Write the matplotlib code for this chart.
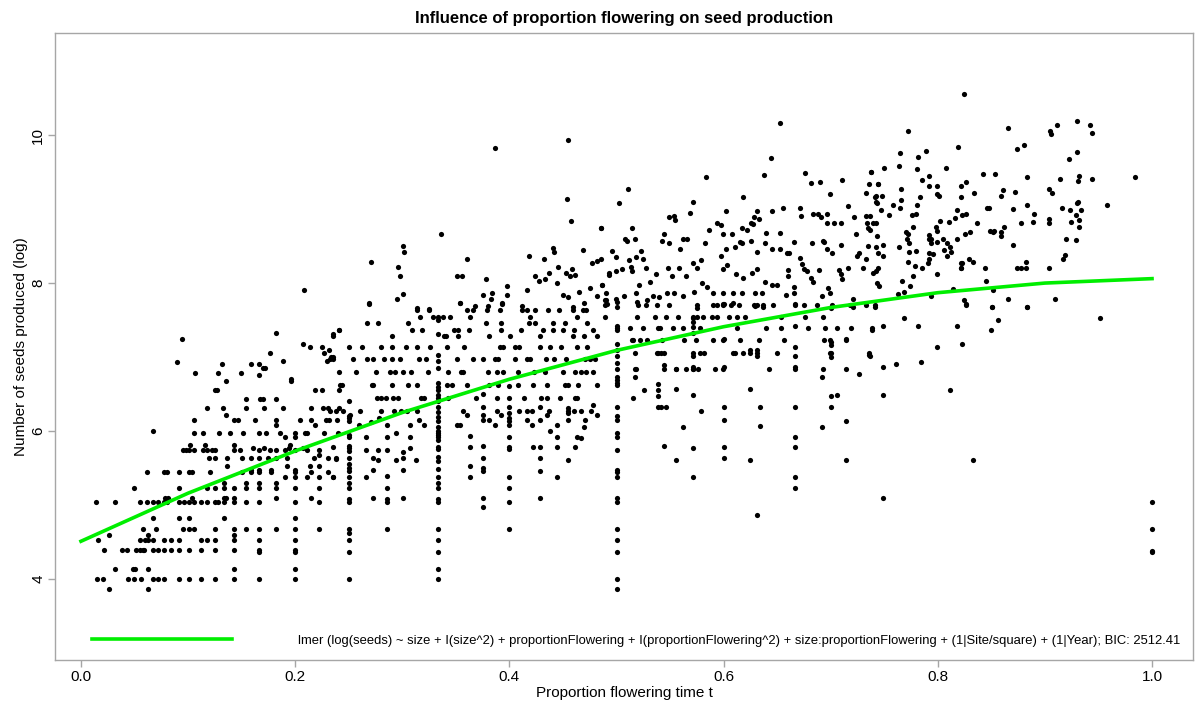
import matplotlib
matplotlib.use("Agg")
import matplotlib.pyplot as plt

plt.rcParams['font.family'] = ['Liberation Sans', 'DejaVu Sans']

# --- plants sharing the same proportion flowering (vertical columns) ---
y_at_quarter = [7.13, 6.40, 6.20, 6.17, 6.14, 5.95, 5.92, 5.80, 5.77, 5.73, 5.63, 5.56,
                5.50, 5.46, 5.38, 5.30, 5.23, 5.08, 5.04, 4.68, 4.62, 4.53, 4.36, 4.00]
y_at_2_7 = [6.08, 5.92, 5.74, 5.39, 5.23, 5.08, 5.04, 4.68]
y_at_third = [7.54, 7.50, 7.31, 7.03, 6.95, 6.85, 6.65, 6.59, 6.55, 6.49, 6.45, 6.40, 6.32,
              6.26, 6.19, 6.13, 6.06, 6.00, 5.98, 5.95, 5.92, 5.88, 5.79, 5.76, 5.65, 5.59,
              5.49, 5.38, 5.30, 5.23, 5.08, 5.04, 4.68, 4.53, 4.36, 4.14, 4.00]
y_at_4_11 = [5.93, 5.78, 5.53, 5.38]
y_at_3_8 = [6.50, 6.33, 6.22, 6.15, 5.80, 5.63, 5.50, 5.46, 5.10, 4.97]
y_at_2_5 = [6.61, 6.44, 6.33, 6.24, 6.17, 6.13, 6.08, 5.92, 5.79, 5.76, 5.38, 5.23, 5.04, 4.68]
y_at_3_7 = [6.33, 6.15, 5.79, 5.63, 5.46, 5.10]
y_at_4_9 = [6.08, 5.92, 5.79, 5.38]
y_at_5_11 = [6.31, 6.24, 6.15, 5.61]
y_at_half = [7.75, 7.67, 7.42, 7.39, 7.36, 7.18, 7.09, 7.01, 6.92, 6.84, 6.73, 6.69, 6.65,
             6.62, 6.32, 6.20, 6.15, 5.98, 5.92, 5.74, 5.48, 5.45, 5.38, 5.10, 5.04, 4.68,
             4.53, 4.36, 4.00, 3.86]
y_at_7_13 = [7.05, 6.64, 6.56, 6.48, 6.32]
y_at_5_9 = [6.84, 6.57, 5.61]
y_at_4_7 = [7.53, 7.48, 7.41, 7.32, 7.01, 6.87, 6.84, 6.49, 5.77, 5.38]
y_at_3_5 = [7.72, 7.24, 6.87, 6.32, 6.15, 5.79, 5.63]
y_at_5_8 = [7.09, 6.57, 5.61]
y_at_2_3 = [7.72, 7.42, 7.13, 7.01, 6.87, 6.84, 6.32, 5.92, 5.79, 5.38, 5.23]
y_at_7_10 = [7.66, 7.21, 7.16, 7.05, 7.00, 6.48, 6.33]
y_at_5_7 = [7.24, 6.84, 6.14, 5.61]
y_at_one = [5.04, 4.68, 4.38, 4.36]

# --- low proportions (x < 0.24), grouped by seed level ---
rows_left = [
    (3.86, [0.0265, 0.0629]),
    (4.00, [0.0153, 0.0208, 0.0442, 0.0495, 0.0560, 0.0675, 0.0722, 0.0775, 0.0915, 0.1008,
            0.1117, 0.1250, 0.1429, 0.1665, 0.2000]),
    (4.14, [0.0321, 0.0482, 0.0507, 0.0629, 0.1429, 0.2000]),
    (4.36, [0.1665, 0.2000]),
    (4.39, [0.0218, 0.0380, 0.0426, 0.0514, 0.0550, 0.0576, 0.0588, 0.0675, 0.0722, 0.0775,
            0.0837, 0.0915, 0.1008, 0.1117, 0.1250, 0.1429, 0.1665, 0.2000]),
    (4.53, [0.0162, 0.0550, 0.0598, 0.0629, 0.0675, 0.0775, 0.0837, 0.0915, 0.1117, 0.1173,
            0.1250, 0.1429, 0.1665, 0.2000]),
    (4.60, [0.0265, 0.0629, 0.1429]),
    (4.68, [0.0576, 0.0697, 0.0955, 0.1008, 0.1058, 0.1250, 0.1429, 0.1540, 0.1665, 0.1820,
            0.2000, 0.2225]),
    (4.82, [0.0675, 0.0915, 0.1008, 0.1335, 0.2000]),
    (5.04, [0.0140, 0.0317, 0.0550, 0.0619, 0.0675, 0.0722, 0.0775, 0.0806, 0.0915, 0.0962,
            0.1008, 0.1058, 0.1117, 0.1173, 0.1250, 0.1282, 0.1335, 0.1429, 0.1540, 0.1665,
            0.2000, 0.2225]),
    (5.09, [0.0784, 0.0815, 0.1033, 0.1335, 0.1354, 0.1429, 0.1820, 0.2144]),
    (5.23, [0.0495, 0.0915, 0.1173, 0.1250, 0.1335, 0.1429, 0.1540, 0.1665, 0.1820, 0.2000,
            0.2225]),
    (5.30, [0.1335, 0.1540, 0.1665, 0.1820]),
    (5.38, [0.1905, 0.2000, 0.2107, 0.2225, 0.2356]),
    (5.45, [0.0619, 0.0775, 0.0800, 0.0915, 0.1008, 0.1033, 0.1204, 0.1500, 0.1584, 0.1665,
            0.1771, 0.2000, 0.2147, 0.2303]),
    (5.48, [0.1584, 0.1665, 0.1771, 0.2000]),
    (5.53, [0.1366, 0.1927, 0.2138, 0.2225]),
    (5.63, [0.1198, 0.1250, 0.1360, 0.1500, 0.1584, 0.1665, 0.1749, 0.1820, 0.1927, 0.2179,
            0.2303, 0.2381]),
    (5.68, [0.2225]),
    (5.74, [0.0955, 0.0980, 0.1008, 0.1058, 0.1142, 0.1173, 0.1220, 0.1250, 0.1429, 0.1484,
            0.1665, 0.1765, 0.1820, 0.1905, 0.2000, 0.2107, 0.2225]),
    (5.77, [0.1603, 0.1709, 0.1939, 0.2070]),
    (5.81, [0.1018, 0.1158, 0.1429, 0.1952]),
    (5.92, [0.1905, 0.2000]),
    (5.97, [0.1058, 0.1142, 0.1291, 0.1391, 0.1515, 0.1665, 0.1727, 0.1858, 0.2000, 0.2092,
            0.2107, 0.2272, 0.2403]),
    (6.00, [0.0675]),
    (6.08, [0.1820, 0.2185]),
    (6.15, [0.1058, 0.1429, 0.1469, 0.1625, 0.1820, 0.2045, 0.2147, 0.2285, 0.2312, 0.2387]),
    (6.22, [0.1354]),
    (6.31, [0.1173, 0.1329, 0.1540, 0.1709, 0.1883, 0.2147, 0.2263, 0.2309, 0.2406]),
    (6.43, [0.1540, 0.1671, 0.1702, 0.1820]),
    (6.55, [0.1250, 0.1273, 0.2185, 0.2250, 0.2406]),
    (6.67, [0.1354, 0.1961]),
    (6.71, [0.1961]),
    (6.76, [0.1665]),
    (6.78, [0.1064, 0.1282, 0.1491]),
    (6.85, [0.1702, 0.1718]),
    (6.91, [0.1313, 0.1584, 0.1665]),
    (6.93, [0.0899]),
    (6.94, [0.1883, 0.2294]),
    (7.00, [0.2334, 0.2356]),
    (7.06, [0.1765, 0.2272]),
    (7.09, [0.2318]),
    (7.13, [0.2138, 0.2247]),
    (7.18, [0.2076]),
    (7.24, [0.0943]),
    (7.31, [0.2350]),
    (7.33, [0.1820]),
    (7.36, [0.2406]),
    (7.91, [0.2085]),
]

# --- middle-left block (0.23 < x < 0.49) ---
rows_mid = [
    (7.73, [0.2692, 0.3538, 0.3927]),
    (7.64, [0.3140, 0.3253, 0.3607, 0.3663, 0.3794, 0.3912, 0.4114, 0.4161, 0.4239, 0.4363,
            0.4460, 0.4591, 0.4684, 0.4715]),
    (7.54, [0.3165, 0.3284, 0.3383, 0.3445, 0.3632, 0.4192, 0.4628]),
    (7.46, [0.2667, 0.2770, 0.3056, 0.3781, 0.3918, 0.4183, 0.4239, 0.4410, 0.4522, 0.4728]),
    (7.37, [0.2412, 0.3088, 0.3181, 0.3483, 0.3523, 0.3626, 0.3918, 0.4105, 0.4317, 0.4404,
            0.4503, 0.4603, 0.4784]),
    (7.28, [0.2350, 0.2901, 0.3392, 0.3405, 0.3523, 0.3806, 0.4005, 0.4286, 0.4597, 0.4700,
            0.4815]),
    (7.14, [0.2621, 0.2798, 0.2907, 0.3035, 0.3140, 0.3259, 0.3414, 0.3576, 0.3912, 0.3943,
            0.4052, 0.4092, 0.4286, 0.4379, 0.4479, 0.4634, 0.4728]),
    (6.98, [0.2325, 0.2350, 0.2543, 0.2667, 0.2730, 0.2832, 0.2901, 0.2978, 0.3159, 0.3218,
            0.3508, 0.3663, 0.3756, 0.3866, 0.3896, 0.4052, 0.4161, 0.4192, 0.4342, 0.4416,
            0.4528, 0.4706, 0.4753, 0.4800]),
    (6.80, [0.2412, 0.2568, 0.2755, 0.2885, 0.2932, 0.3003, 0.3078, 0.3243, 0.3430, 0.3545,
            0.3570, 0.3803, 0.3881, 0.3943, 0.4083, 0.4230, 0.4332, 0.4503, 0.4613, 0.4665,
            0.4715, 0.4784]),
    (6.62, [0.2418, 0.2434, 0.2720, 0.2730, 0.2907, 0.3056, 0.3140, 0.3414, 0.3461, 0.3601,
            0.3812, 0.3890, 0.4083, 0.4223, 0.4348, 0.4519, 0.4550, 0.4644, 0.4815]),
    (6.44, [0.2761, 0.2798, 0.2848, 0.2916, 0.2963, 0.3175, 0.3203, 0.3423, 0.3685, 0.3881,
            0.4139, 0.4292, 0.4348, 0.4472, 0.4613, 0.4628]),
    (6.27, [0.2325, 0.2381, 0.2443, 0.2605, 0.2798, 0.2922, 0.2985, 0.3047, 0.3137, 0.3570,
            0.3887, 0.4092, 0.4161, 0.4208, 0.4370, 0.4544, 0.4606, 0.4665, 0.4759]),
]

pts_mid_low = [
    (0.2350, 5.79), (0.2381, 5.62), (0.2350, 5.38), (0.2661, 5.92), (0.2661, 5.74),
    (0.2661, 5.38), (0.2723, 5.63), (0.2723, 5.47), (0.2723, 5.10), (0.2770, 5.74),
    (0.2770, 5.61), (0.2941, 5.97), (0.2941, 5.61), (0.3003, 5.72), (0.3003, 5.63),
    (0.3003, 5.47), (0.3003, 5.10), (0.3072, 6.08), (0.3072, 5.92), (0.3072, 5.77),
    (0.3128, 5.61), (0.3156, 6.15), (0.3206, 6.08), (0.3508, 6.08), (0.3538, 6.08),
    (0.3601, 6.22), (0.3812, 6.15), (0.3866, 6.08), (0.3918, 6.22), (0.4161, 6.15),
    (0.4208, 6.08), (0.4223, 5.79), (0.4348, 6.22), (0.4379, 6.00), (0.4628, 5.92),
    (0.4665, 5.90), (0.4699, 6.05), (0.4613, 5.79), (0.4706, 6.15), (0.4815, 6.22),
    (0.4784, 6.35), (0.2513, 6.22), (0.2598, 6.08), (0.2704, 6.12), (0.2785, 6.18),
]

pts_mid_high = [
    (0.3866, 9.83), (0.4550, 9.94), (0.4535, 9.13), (0.4572, 8.84), (0.4852, 8.75),
    (0.3361, 8.67), (0.3010, 8.50), (0.3016, 8.42), (0.2708, 8.28), (0.2963, 8.22),
    (0.3601, 8.32), (0.2978, 8.09), (0.3010, 7.85), (0.2954, 7.79), (0.2692, 7.72),
    (0.3508, 8.10), (0.3554, 8.10), (0.3778, 8.05), (0.3974, 7.96), (0.4183, 8.36),
    (0.4404, 8.48), (0.4414, 8.42), (0.4323, 8.33), (0.4454, 8.22), (0.4242, 8.09),
    (0.4280, 8.03), (0.4332, 8.05), (0.4373, 8.13), (0.4525, 8.13), (0.4565, 8.10),
    (0.4613, 8.11), (0.4588, 8.19), (0.4687, 8.45), (0.4774, 8.27), (0.4815, 8.30),
    (0.4855, 8.33), (0.4927, 8.11), (0.4862, 7.97), (0.4756, 7.93), (0.4815, 7.82),
    (0.4441, 8.00), (0.4653, 7.88), (0.4697, 7.73), (0.4503, 7.84), (0.4544, 7.81),
    (0.3756, 7.84), (0.3834, 7.87), (0.3974, 7.84), (0.3826, 7.79), (0.4167, 7.91),
    (0.4114, 7.69), (0.3934, 7.72), (0.3538, 7.73), (0.3679, 7.69), (0.3140, 7.66),
    (0.3247, 7.65), (0.3803, 7.69), (0.4597, 7.67), (0.4902, 7.77),
]

# --- middle-right block (0.49 < x < 0.75) ---
rows_right = [
    (7.70, [0.4893, 0.5204, 0.5276, 0.5382, 0.5493, 0.5749, 0.5898, 0.5942, 0.5991, 0.6066,
            0.6147, 0.6284, 0.6315, 0.6371, 0.6464, 0.6754, 0.6869, 0.7009, 0.7180, 0.7326,
            0.7413]),
    (7.54, [0.4893, 0.5188, 0.5360, 0.5462, 0.5578, 0.5711, 0.5749, 0.5804, 0.5895, 0.5942,
            0.6054, 0.6122, 0.6200, 0.6533, 0.6763, 0.6931]),
    (7.39, [0.5126, 0.5245, 0.5385, 0.5406, 0.5525, 0.5624, 0.5780, 0.6122, 0.6393, 0.6536,
            0.6791, 0.6947, 0.7055, 0.7187, 0.7382]),
    (7.23, [0.5142, 0.5157, 0.5219, 0.5288, 0.5422, 0.5634, 0.5743, 0.5898, 0.5997, 0.6153,
            0.6334, 0.6567, 0.6937, 0.6993, 0.7140]),
    (7.06, [0.5173, 0.5382, 0.5416, 0.5447, 0.5711, 0.5780, 0.5817, 0.6085, 0.6106, 0.6185,
            0.6246, 0.6315, 0.6496, 0.6993, 0.7360]),
    (6.84, [0.5182, 0.5173, 0.5447, 0.5556, 0.5649, 0.5711, 0.5764, 0.5922, 0.5997, 0.6427,
            0.6925]),
]

pts_right_low = [
    (0.5447, 6.89), (0.5447, 5.80), (0.6339, 6.33), (0.6339, 6.07), (0.5786, 6.27),
    (0.5618, 6.06), (0.6309, 4.87), (0.6309, 7.10), (0.6309, 7.01), (0.6916, 6.06),
    (0.6916, 6.73), (0.7056, 6.49), (0.7268, 6.77), (0.7360, 7.03), (0.5173, 6.73),
    (0.5155, 6.45), (0.5416, 6.32), (0.5462, 6.33), (0.5260, 6.55),
]

pts_right_high = [
    (0.6526, 10.16), (0.6439, 9.69), (0.6380, 9.46), (0.5836, 9.43), (0.6756, 9.49),
    (0.7376, 9.50), (0.6819, 9.35), (0.6897, 9.36), (0.7102, 9.39), (0.7360, 9.34),
    (0.7445, 9.34), (0.6994, 9.21), (0.7326, 9.22), (0.5104, 9.27), (0.5024, 9.08),
    (0.6185, 9.17), (0.5711, 9.09), (0.5686, 8.95), (0.6022, 8.97), (0.5489, 8.89),
    (0.5536, 8.90), (0.5549, 8.85), (0.6559, 9.01), (0.6452, 8.97), (0.6312, 8.97),
    (0.6328, 8.86), (0.6287, 8.89), (0.6713, 9.01), (0.6723, 8.90), (0.6837, 8.94),
    (0.6878, 8.94), (0.6909, 8.89), (0.6962, 8.94), (0.7162, 9.04), (0.7215, 8.89),
    (0.7417, 9.17), (0.7430, 9.08), (0.6962, 8.81), (0.7030, 8.81), (0.7099, 8.81),
    (0.7333, 8.91), (0.7343, 8.81), (0.7349, 8.74), (0.7393, 8.81), (0.4852, 8.75),
    (0.5148, 8.75), (0.5080, 8.59), (0.5096, 8.57), (0.5176, 8.60), (0.5443, 8.67),
    (0.5624, 8.60), (0.5662, 8.60), (0.5867, 8.72), (0.5942, 8.81), (0.5977, 8.78),
    (0.6175, 8.75), (0.6221, 8.72), (0.6259, 8.81), (0.6271, 8.80), (0.6393, 8.68),
    (0.6524, 8.68), (0.6658, 8.56), (0.7240, 8.67), (0.7346, 8.50), (0.5422, 8.57),
    (0.5493, 8.54), (0.5593, 8.46), (0.5826, 8.54), (0.5997, 8.67), (0.6075, 8.66),
    (0.6106, 8.49), (0.6153, 8.56), (0.6175, 8.54), (0.6256, 8.57), (0.6309, 8.42),
    (0.6386, 8.54), (0.6449, 8.46), (0.6527, 8.46), (0.6589, 8.40), (0.6614, 8.40),
    (0.6713, 8.34), (0.6829, 8.54), (0.6925, 8.57), (0.6937, 8.55), (0.6962, 8.46),
    (0.7009, 8.40), (0.7096, 8.52), (0.7242, 8.36), (0.7267, 8.41), (0.7326, 8.32),
    (0.7442, 8.40), (0.4955, 8.44), (0.4995, 8.35), (0.5225, 8.44), (0.5250, 8.33),
    (0.5182, 8.35), (0.5118, 8.31), (0.5049, 8.19), (0.4932, 8.13), (0.4995, 8.16),
    (0.5133, 8.22), (0.5148, 8.16), (0.5271, 8.20), (0.5369, 8.12), (0.5478, 8.21),
    (0.5522, 8.09), (0.5584, 8.20), (0.5650, 8.09), (0.5711, 8.27), (0.5755, 8.20),
    (0.5790, 8.31), (0.5972, 8.37), (0.6022, 8.46), (0.5991, 8.19), (0.6028, 8.25),
    (0.6113, 8.12), (0.6178, 8.07), (0.6262, 8.14), (0.6309, 8.19), (0.6390, 8.01),
    (0.6449, 7.97), (0.6496, 7.98), (0.6598, 8.18), (0.6604, 8.09), (0.6658, 7.95),
    (0.6729, 8.26), (0.6751, 8.19), (0.6776, 8.16), (0.6813, 8.07), (0.6838, 8.01),
    (0.6894, 8.18), (0.6979, 7.93), (0.6993, 7.86), (0.7080, 8.18), (0.7100, 8.12),
    (0.7109, 8.05), (0.7165, 8.20), (0.7299, 8.20), (0.7420, 8.16), (0.4861, 7.97),
    (0.4902, 7.87), (0.4893, 7.77), (0.4995, 7.79), (0.5072, 7.82), (0.5178, 7.87),
    (0.5210, 7.97), (0.5313, 8.01), (0.5344, 7.82), (0.5397, 7.81), (0.5472, 7.86),
    (0.5538, 7.87), (0.5617, 7.82), (0.5723, 7.88), (0.5795, 8.00), (0.5848, 7.95),
    (0.5904, 7.87), (0.5997, 7.86), (0.6085, 7.87), (0.6169, 7.87), (0.6296, 7.87),
    (0.6362, 7.87), (0.6580, 7.84), (0.6661, 7.87), (0.6918, 7.83), (0.7211, 7.79),
    (0.7211, 7.68), (0.7454, 7.96), (0.4908, 7.72), (0.5194, 7.75), (0.5282, 7.77),
    (0.5749, 7.66), (0.5997, 7.72), (0.6091, 7.73), (0.6292, 7.69), (0.6371, 7.67),
    (0.6667, 7.70),
]

# --- high proportions (x > 0.73) ---
pts_far_right = [
    (0.7414, 7.67), (0.7492, 7.42), (0.7492, 6.87), (0.7492, 6.49), (0.7492, 5.10),
    (0.7383, 7.36), (0.7367, 7.02), (0.7610, 6.91), (0.7685, 7.53), (0.7818, 7.42),
    (0.7843, 6.93), (0.7989, 7.13), (0.8114, 6.56), (0.8176, 7.42), (0.8223, 7.17),
    (0.8263, 7.72), (0.8326, 5.61), (0.8494, 7.36), (0.8509, 7.67), (0.8566, 7.50),
    (0.8836, 7.67), (0.9515, 7.53),
    (0.8248, 10.55), (0.7719, 10.06), (0.8192, 9.84), (0.7890, 9.78), (0.7647, 9.76),
    (0.7818, 9.70), (0.7641, 9.58), (0.7498, 9.56), (0.7803, 9.54), (0.8077, 9.55),
    (0.7376, 9.50), (0.7921, 9.45), (0.7849, 9.39), (0.7445, 9.34), (0.7921, 9.31),
    (0.7996, 9.31), (0.8214, 9.31), (0.8261, 9.36), (0.7656, 9.27), (0.7996, 9.20),
    (0.8008, 9.18), (0.7420, 9.18), (0.7476, 9.18), (0.7834, 9.16), (0.8214, 9.16),
    (0.7653, 9.12), (0.7420, 9.09), (0.7809, 9.06), (0.7582, 9.05), (0.7647, 9.02),
    (0.7466, 8.99), (0.7544, 8.92), (0.7759, 8.92), (0.7797, 8.94), (0.7367, 8.90),
    (0.7420, 8.81), (0.7772, 8.76), (0.7367, 8.72), (0.7429, 8.64), (0.7703, 8.69),
    (0.7725, 8.66), (0.7641, 8.49), (0.7492, 8.52), (0.7423, 8.49), (0.7734, 8.54),
    (0.7716, 8.60), (0.7797, 8.44), (0.7734, 8.42), (0.7492, 8.36), (0.7725, 8.29),
    (0.7787, 8.23), (0.7849, 8.20), (0.7772, 8.09), (0.7392, 8.14), (0.7445, 8.20),
    (0.7429, 8.00), (0.7663, 8.03), (0.7625, 7.85), (0.7685, 7.88), (0.7741, 7.96),
    (0.7921, 8.65), (0.7921, 8.59), (0.7933, 8.54), (0.7933, 8.60), (0.7980, 8.76),
    (0.7989, 8.71), (0.7921, 8.33), (0.7921, 8.40), (0.7958, 8.39), (0.7911, 8.27),
    (0.7989, 8.56), (0.8020, 8.84), (0.8052, 8.59), (0.8083, 8.54), (0.8058, 8.45),
    (0.8114, 8.49), (0.8123, 8.42), (0.8089, 8.36), (0.8104, 8.82), (0.8164, 8.88),
    (0.8179, 8.99), (0.8226, 8.92), (0.8263, 8.93), (0.8179, 8.59), (0.8257, 8.66),
    (0.8301, 8.69), (0.8363, 8.81), (0.8341, 9.22), (0.8217, 8.27), (0.8229, 8.27),
    (0.8214, 8.21), (0.8214, 8.20), (0.8292, 8.32), (0.8326, 8.29), (0.7989, 8.12),
    (0.8139, 7.92), (0.7933, 7.83), (0.8248, 7.77), (0.8264, 7.71), (0.8444, 8.20),
    (0.8452, 8.03), (0.8519, 7.91), (0.8509, 7.67), (0.8653, 7.79), (0.8830, 7.67),
    (0.9094, 7.79), (0.9041, 8.20), (0.8737, 8.20), (0.8775, 8.21), (0.8824, 8.29),
    (0.8824, 8.20), (0.8775, 8.81), (0.8699, 8.52), (0.8699, 9.00), (0.8836, 9.05),
    (0.8901, 8.94), (0.8892, 8.82), (0.8721, 9.23), (0.8587, 9.18), (0.8606, 9.26),
    (0.8489, 8.71), (0.8511, 8.69), (0.8527, 8.70), (0.8594, 8.69), (0.8594, 8.64),
    (0.8616, 8.76), (0.8455, 9.02), (0.8480, 9.02), (0.8424, 9.47), (0.8537, 9.47),
    (0.8836, 9.43), (0.8653, 10.09), (0.8737, 9.81), (0.8808, 9.86), (0.9038, 9.27),
    (0.9070, 9.22), (0.9038, 8.86), (0.9038, 8.81), (0.9047, 10.06), (0.9057, 10.01),
    (0.9110, 10.13), (0.9141, 9.40), (0.9228, 9.68), (0.9156, 9.01), (0.9194, 8.59),
    (0.9172, 8.33), (0.9187, 8.38), (0.9234, 8.99), (0.9240, 8.83), (0.9287, 8.58),
    (0.9290, 8.92), (0.9296, 9.08), (0.9312, 9.10), (0.9318, 8.85), (0.9318, 8.76),
    (0.9334, 8.99), (0.9312, 9.38), (0.9318, 9.45), (0.9303, 9.77), (0.9303, 10.19),
    (0.9421, 10.14), (0.9443, 10.03), (0.9437, 9.40), (0.9577, 9.06), (0.9842, 9.44),
]

# fitted lmer curve
fit_x = [0.0, 0.1, 0.2, 0.3, 0.4, 0.5, 0.6, 0.7, 0.8, 0.9, 1.0]
fit_y = [4.51, 5.16, 5.73, 6.25, 6.70, 7.09, 7.41, 7.67, 7.87, 8.00, 8.06]

legend_text = ("lmer (log(seeds) ~ size + I(size^2) + proportionFlowering + "
               "I(proportionFlowering^2) + size:proportionFlowering + (1|Site/square) + "
               "(1|Year); BIC: 2512.41")

# gather everything into x / y
xs, ys = [], []
columns = [(1 / 4, y_at_quarter), (2 / 7, y_at_2_7), (1 / 3, y_at_third), (4 / 11, y_at_4_11),
           (3 / 8, y_at_3_8), (2 / 5, y_at_2_5), (3 / 7, y_at_3_7), (4 / 9, y_at_4_9),
           (5 / 11, y_at_5_11), (1 / 2, y_at_half), (7 / 13, y_at_7_13), (5 / 9, y_at_5_9),
           (4 / 7, y_at_4_7), (3 / 5, y_at_3_5), (5 / 8, y_at_5_8), (2 / 3, y_at_2_3),
           (7 / 10, y_at_7_10), (5 / 7, y_at_5_7), (1.0, y_at_one)]
for x0, col in columns:
    xs += [x0] * len(col)
    ys += col
for rows in (rows_left, rows_mid, rows_right):
    for y0, xrow in rows:
        xs += xrow
        ys += [y0] * len(xrow)
for pts in (pts_mid_low, pts_mid_high, pts_right_low, pts_right_high, pts_far_right):
    xs += [p[0] for p in pts]
    ys += [p[1] for p in pts]

fig = plt.figure(figsize=(12, 7.04), dpi=100)
ax = fig.add_axes([0.0458, 0.0625, 0.9484, 0.8906])

ax.scatter(xs, ys, s=14, color='black', linewidths=0, zorder=2)
ax.plot(fit_x, fit_y, color='#00ee00', lw=2.6, zorder=3, label=legend_text)

ax.set_xlim(-0.0243, 1.0383)
ax.set_ylim(2.905, 11.38)
ax.set_xticks([0.0, 0.2, 0.4, 0.6, 0.8, 1.0])
ax.set_xticklabels(['0.0', '0.2', '0.4', '0.6', '0.8', '1.0'])
ax.set_yticks([4, 6, 8, 10])
ax.set_yticklabels(['4', '6', '8', '10'], rotation=90, va='center')

for sp in ax.spines.values():
    sp.set_color('#a6a6a6')
    sp.set_linewidth(1.0)
ax.tick_params(colors='#a6a6a6', labelcolor='black', labelsize=11, length=5, width=1, pad=2)

ax.set_title('Influence of proportion flowering on seed production',
             fontsize=12, fontweight='bold', pad=7)
ax.set_xlabel('Proportion flowering time t', fontsize=11, labelpad=2)
ax.set_ylabel('Number of seeds produced (log)', fontsize=11, labelpad=2)

ax.legend(loc='lower right', frameon=False, fontsize=9.4, handlelength=10.7,
          handletextpad=5.05, borderaxespad=0.6)

fig.savefig('out.png', dpi=100)
